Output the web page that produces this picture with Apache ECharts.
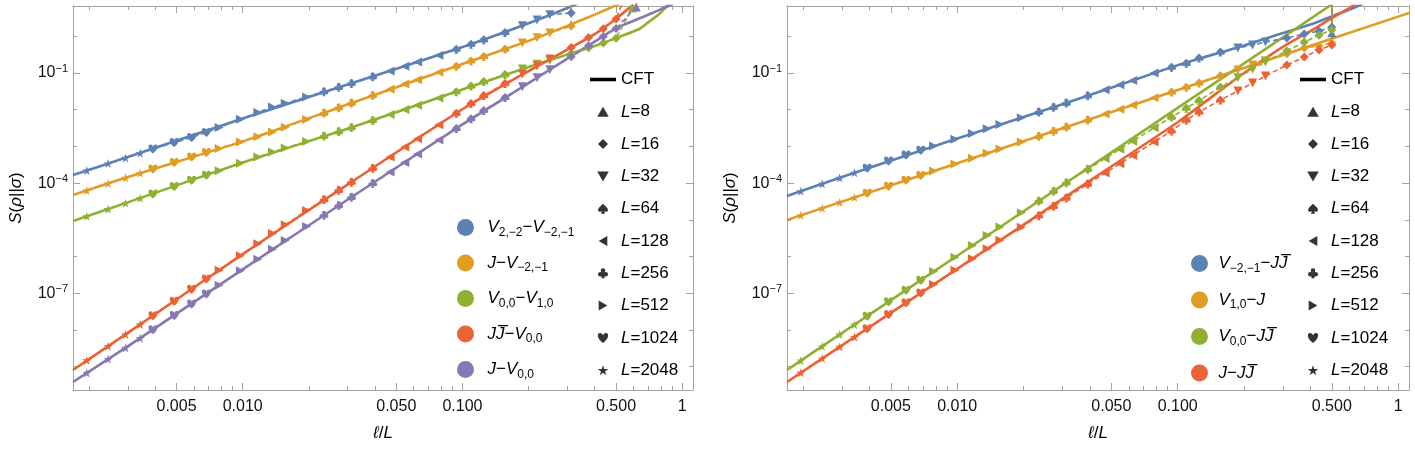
<!DOCTYPE html>
<html>
<head>
<meta charset="utf-8">
<script src="https://cdn.jsdelivr.net/npm/echarts@6/dist/echarts.min.js"></script>
<style>
  html, body { margin: 0; padding: 0; background: #fff; }
  #chart { width: 1415px; height: 455px; }
</style>
</head>
<body>
<div id="chart"></div>
<script>
(function (echarts) {
  'use strict';

  // lattice points: x = l/L, and the system size L each point belongs to
  var markerX = [0.001953, 0.002441, 0.00293, 0.003418, 0.003906, 0.004883, 0.005859, 0.006836,
    0.007813, 0.009766, 0.011719, 0.013672, 0.015625, 0.019531, 0.023438, 0.027344, 0.03125, 0.039063,
    0.046875, 0.054688, 0.0625, 0.078125, 0.09375, 0.109375, 0.125, 0.15625, 0.1875, 0.21875, 0.25,
    0.3125, 0.375, 0.4375, 0.5];
  var markerL = [2048, 2048, 2048, 2048, 1024, 1024, 1024, 1024, 512, 512, 512, 512, 512, 512,
    256, 256, 256, 256, 128, 128, 128, 128, 64, 64, 64, 64, 32, 32, 32, 16, 16, 16, 16];
  var sizesL = [8, 16, 32, 64, 128, 256, 512, 1024, 2048];

  // left panel, lattice values
  var latA = [2.20e-4, 3.42e-4, 4.86e-4, 6.56e-4, 8.49e-4, 1.27e-3, 1.76e-3, 2.40e-3, 3.27e-3, 5.47e-3,
    8.39e-3, 1.18e-2, 1.49e-2, 2.23e-2, 3.09e-2, 4.07e-2, 5.21e-2, 7.93e-2, 0.113, 0.153, 0.198, 0.305,
    0.446, 0.610, 0.804, 1.27, 1.95, 2.80, 3.85, 4.32];
  var latB = [6.28e-5, 9.75e-5, 1.39e-4, 1.87e-4, 2.42e-4, 3.64e-4, 5.11e-4, 6.82e-4, 8.71e-4, 1.32e-3,
    1.84e-3, 2.48e-3, 3.33e-3, 5.45e-3, 8.07e-3, 1.13e-2, 1.52e-2, 2.45e-2, 3.60e-2, 4.99e-2, 6.56e-2,
    0.105, 0.154, 0.214, 0.282, 0.448, 0.656, 0.910, 1.24, 1.9];
  var latC = [1.24e-5, 1.96e-5, 2.83e-5, 3.88e-5, 5.08e-5, 8.13e-5, 1.19e-4, 1.64e-4, 2.18e-4, 3.48e-4,
    5.11e-4, 7.00e-4, 8.99e-4, 1.36e-3, 1.91e-3, 2.53e-3, 3.25e-3, 5.08e-3, 7.35e-3, 1.01e-2, 1.33e-2,
    2.08e-2, 3.09e-2, 4.40e-2, 5.83e-2, 9.04e-2, 0.129, 0.173, 0.223, 0.342, 0.486, 0.653, 0.887];
  var latD = [1.47e-9, 3.60e-9, 7.53e-9, 1.41e-8, 2.42e-8, 6.05e-8, 1.29e-7, 2.42e-7, 4.21e-7, 1.05e-6,
    2.23e-6, 4.21e-6, 7.31e-6, 1.78e-5, 3.55e-5, 6.37e-5, 1.06e-4, 2.53e-4, 5.18e-4, 9.57e-4, 1.61e-3,
    3.90e-3, 7.98e-3, 1.48e-2, 2.42e-2, 5.14e-2, 9.39e-2, 0.156, 0.240, 0.499, 0.927, 1.60, 2.98];
  var latE = [6.73e-10, 1.60e-9, 3.25e-9, 5.94e-9, 1.01e-8, 2.45e-8, 5.11e-8, 9.57e-8, 1.64e-7, 4.06e-7,
    8.43e-7, 1.58e-6, 2.71e-6, 6.56e-6, 1.34e-5, 2.44e-5, 4.10e-5, 9.82e-5, 2.00e-4, 3.66e-4, 6.17e-4,
    1.50e-3, 3.08e-3, 5.69e-3, 9.57e-3, 2.15e-2, 4.21e-2, 7.45e-2, 0.123, 0.276, 0.555, 0.993, 1.64];
  // last L=8 points (they leave the frame)
  var tailA = [[0.3125, 30]];
  var tailB = [[0.3125, 30]];
  var tailC = [[0.593, 5.9]];
  var tailD = [[0.55, 12]];
  var tailE = [[0.618, 6.3]];

  // left panel, CFT curves
  var cftA = [[0.00169, 1.66e-4], [0.003, 5.11e-4], [0.01, 5.79e-3], [0.03, 4.83e-2], [0.1, 0.508],
    [0.2, 2.26], [0.3, 5.9], [0.4, 12.6]];
  var cftB = [[0.00169, 4.74e-5], [0.003, 1.46e-4], [0.01, 1.37e-3], [0.03, 1.39e-2], [0.1, 0.176],
    [0.2, 0.75], [0.3, 1.93], [0.4, 3.9], [0.5, 6.98], [0.7, 17]];
  var cftC = [[0.00169, 9.27e-6], [0.003, 2.98e-5], [0.01, 3.64e-4], [0.03, 3.02e-3], [0.1, 3.57e-2],
    [0.2, 0.145], [0.3, 0.317], [0.4, 0.545], [0.5, 0.894], [0.638, 1.58], [0.7, 2.4], [0.786, 4.06],
    [0.855, 7.13], [0.88, 12]];
  var cftD = [[0.00169, 8.07e-10], [0.003, 8.28e-9], [0.01, 1.16e-6], [0.03, 9.10e-5], [0.1, 1.03e-2],
    [0.2, 0.113], [0.3, 0.435], [0.4, 1.15], [0.5, 3.02], [0.574, 5.9], [0.7, 15]];
  var cftE = [[0.00169, 3.8e-10], [0.003, 3.57e-9], [0.01, 4.46e-7], [0.03, 3.51e-5], [0.1, 3.97e-3],
    [0.2, 5.31e-2], [0.3, 0.247], [0.4, 0.721], [0.5, 1.65], [0.7, 3.88], [0.846, 6.28], [1, 9.8]];

  // right panel, lattice values
  var latF = [6.01e-5, 9.57e-5, 1.39e-4, 1.92e-4, 2.53e-4, 4.00e-4, 5.79e-4, 7.83e-4, 1.02e-3, 1.57e-3,
    2.24e-3, 3.03e-3, 3.93e-3, 6.05e-3, 8.65e-3, 1.17e-2, 1.52e-2, 2.40e-2, 3.48e-2, 4.76e-2, 6.28e-2,
    9.93e-2, 0.144, 0.184, 0.256, 0.373, 0.480, 0.579, 0.700, 0.900, 1.16, 1.39, 1.79];
  var latG = [1.32e-5, 2.07e-5, 2.98e-5, 4.06e-5, 5.28e-5, 8.26e-5, 1.19e-4, 1.62e-4, 2.12e-4, 3.30e-4,
    4.75e-4, 6.49e-4, 8.45e-4, 1.32e-3, 1.90e-3, 2.58e-3, 3.37e-3, 5.27e-3, 7.59e-3, 1.03e-2, 1.35e-2,
    2.11e-2, 3.03e-2, 4.12e-2, 5.38e-2, 8.41e-2, 0.121, 0.165, 0.215, 0.337, 0.484, 0.545, 0.656];
  var latH = [1.46e-9, 3.57e-9, 7.45e-9, 1.39e-8, 2.37e-8, 5.82e-8, 1.21e-7, 2.26e-7, 3.88e-7, 9.53e-7,
    1.99e-6, 3.71e-6, 6.34e-6, 1.56e-5, 3.24e-5, 6.01e-5, 1.03e-4, 2.38e-4, 4.71e-4, 8.41e-4, 1.39e-3,
    3.23e-3, 6.28e-3, 1.10e-2, 1.77e-2, 4.09e-2, 7.48e-2, 0.127, 0.199, 0.404, 0.695, 1.07, 1.52];
  var latI = [6.82e-10, 1.66e-9, 3.44e-9, 6.38e-9, 1.08e-8, 2.64e-8, 5.47e-8, 1.01e-7, 1.73e-7, 4.22e-7,
    8.73e-7, 1.62e-6, 2.75e-6, 6.30e-6, 1.29e-5, 2.33e-5, 3.94e-5, 9.42e-5, 1.88e-4, 3.39e-4, 5.66e-4,
    1.32e-3, 2.64e-3, 5.24e-3, 8.65e-3, 1.84e-2, 3.24e-2, 5.35e-2, 8.28e-2, 0.165, 0.273, 0.424, 0.579];
  var tailF = [[0.5, 1.25]];
  var tailG = [[0.5, 30]];
  var tailH = [[0.5, 30]];
  var tailI = [[0.5, 30]];

  // right panel, CFT curves
  var cftF = [[0.00169, 4.46e-5], [0.003, 1.47e-4], [0.01, 1.64e-3], [0.03, 1.40e-2], [0.1, 0.164],
    [0.2, 0.565], [0.3, 1.23], [0.4, 2.10], [0.5, 3.48], [0.658, 6.7], [0.8, 12]];
  var cftG = [[0.00169, 9.89e-6], [0.003, 3.13e-5], [0.01, 3.46e-4], [0.03, 3.11e-3], [0.1, 3.44e-2],
    [0.3, 0.310], [1, 3.44], [1.12, 4.32]];
  var cftH = [[0.00169, 8.07e-10], [0.003, 8.20e-9], [0.01, 1.05e-6], [0.03, 8.75e-5], [0.1, 1.12e-2],
    [0.3, 0.935], [0.5, 7.38], [0.6, 15.5]];
  var cftI = [[0.00169, 3.8e-10], [0.003, 3.78e-9], [0.01, 4.62e-7], [0.03, 3.72e-5], [0.1, 4.54e-3],
    [0.15, 2.78e-2], [0.2, 0.1], [0.3, 0.518], [0.4, 1.39], [0.5, 3.11], [0.6, 5.9], [0.7, 10.5]];

  // axes
  var xMin = 0.00169, xMax = 1.12;
  var yMin = 2.3e-10, yMax = 6.7;
  var xMinor = [0.002, 0.003, 0.004, 0.006, 0.007, 0.008, 0.009, 0.02, 0.03, 0.04, 0.06, 0.07, 0.08,
    0.09, 0.2, 0.3, 0.4, 0.6, 0.7, 0.8, 0.9];
  var xLabels = [0.005, 0.01, 0.05, 0.1, 0.5, 1];
  var yMinor = [1e-9, 1e-8, 1e-6, 1e-5, 1e-3, 1e-2, 1];
  var yLabels = [1e-7, 1e-4, 1e-1];

  var FONT = '"Liberation Sans", Arial, "DejaVu Sans", sans-serif';
  var FRAME = '#a3a3a3';
  var C = {
    blue: '#5E81B5', orange: '#E19C24', green: '#8FB032', red: '#EB6235', purple: '#8778B3'
  };

  var SYM = {
    8: 'path://M5,0L10,8.66L0,8.66Z',
    16: 'path://M5,0L10,5L5,10L0,5Z',
    32: 'path://M0,0L10,0L5,8.66Z',
    64: 'path://M5,0C8,3 10,4.5 10,6.3C10,8 8,8.6 6.2,7.6L7,10L3,10L3.8,7.6C2,8.6 0,8 0,6.3C0,4.5 2,3 5,0Z',
    128: 'path://M0,5L8.66,0L8.66,10Z',
    256: 'path://M2.7,2.4A2.3,2.3 0 1 1 7.3,2.4A2.3,2.3 0 1 1 2.7,2.4Z' +
      'M0,6A2.3,2.3 0 1 1 4.6,6A2.3,2.3 0 1 1 0,6Z' +
      'M5.4,6A2.3,2.3 0 1 1 10,6A2.3,2.3 0 1 1 5.4,6Z' +
      'M4.3,4.5L5.7,4.5L6.6,10L3.4,10Z',
    512: 'path://M0,0L8.66,5L0,10Z',
    1024: 'path://M5,9C0,5.5 0,1 2.6,1C4,1 5,2.2 5,3C5,2.2 6,1 7.4,1C10,1 10,5.5 5,9Z',
    2048: 'path://M5,0L6.12,3.45L9.76,3.45L6.82,5.59L7.94,9.05L5,6.91L2.06,9.05L3.18,5.59L0.24,3.45L3.88,3.45Z'
  };
  var CFT_ICON = 'path://M0,0L22,0L22,3L0,3Z';

  var rich = {
    i: { fontStyle: 'italic', fontSize: 17, lineHeight: 22, fontFamily: FONT, color: '#000' },
    n: { fontSize: 17, lineHeight: 22, fontFamily: FONT, color: '#000' },
    s: { fontSize: 12, lineHeight: 13, verticalAlign: 'bottom', fontFamily: FONT, color: '#000' }
  };

  var curveLabel = {
    'A': '{i|V}{s|2,\u22122}{n|\u2212}{i|V}{s|\u22122,\u22121}',
    'B': '{i|J}{n|\u2212}{i|V}{s|\u22122,\u22121}',
    'C': '{i|V}{s|0,0}{n|\u2212}{i|V}{s|1,0}',
    'D': '{i|JJ\u0305}{n|\u2212}{i|V}{s|0,0}',
    'E': '{i|J}{n|\u2212}{i|V}{s|0,0}',
    'F': '{i|V}{s|\u22122,\u22121}{n|\u2212}{i|JJ\u0305}',
    'G': '{i|V}{s|1,0}{n|\u2212}{i|J}',
    'H': '{i|V}{s|0,0}{n|\u2212}{i|JJ\u0305}',
    'I': '{i|J}{n|\u2212}{i|JJ\u0305}'
  };

  function cftSeries(name, color, data, axis) {
    return {
      name: name, type: 'line', xAxisIndex: axis, yAxisIndex: axis, data: data,
      showSymbol: false, smooth: 0.2, clip: true, silent: true, z: 2,
      lineStyle: { color: color, width: 2.6 }, itemStyle: { color: color }
    };
  }

  function latticeSeries(name, color, ys, tail, axis) {
    var data = [];
    ys.forEach(function (y, i) {
      data.push({ value: [markerX[i], y], symbol: SYM[markerL[i]] });
    });
    tail.forEach(function (p) {
      data.push({ value: p, symbol: SYM[8] });
    });
    return {
      name: name, type: 'line', xAxisIndex: axis, yAxisIndex: axis, data: data,
      symbolSize: 9, showAllSymbol: true, clip: true, silent: true, z: 3,
      lineStyle: { color: color, width: 1.6, type: [5, 3] }, itemStyle: { color: color }
    };
  }

  // one frame side = an axis with long ticks (and labels) plus an axis with short ticks
  function frameAxis(grid, pos, min, max, ticks, len, line) {
    return {
      type: 'log', gridIndex: grid, position: pos, min: min, max: max,
      axisLine: { show: line, onZero: false, lineStyle: { color: FRAME, width: 1 } },
      axisTick: { show: true, inside: true, length: len, customValues: ticks, lineStyle: { color: FRAME } },
      axisLabel: { show: false },
      splitLine: { show: false }
    };
  }

  function xAxes(grid) {
    var bottom = frameAxis(grid, 'bottom', xMin, xMax, xLabels, 7, true);
    bottom.axisLabel = {
      show: true, customValues: xLabels, margin: 9, fontSize: 16, fontFamily: FONT, color: '#111',
      formatter: function (v) { return v >= 1 ? '1' : v.toFixed(3); }
    };
    bottom.name = '{i|\u2113}{n|/}{i|L}';
    bottom.nameLocation = 'middle';
    bottom.nameGap = 32;
    bottom.nameTextStyle = { rich: rich };
    return [
      bottom,
      frameAxis(grid, 'top', xMin, xMax, xLabels, 7, true),
      frameAxis(grid, 'bottom', xMin, xMax, xMinor, 4, false),
      frameAxis(grid, 'top', xMin, xMax, xMinor, 4, false)
    ];
  }

  function yAxes(grid) {
    var left = frameAxis(grid, 'left', yMin, yMax, yLabels, 7, true);
    left.axisLabel = {
      show: true, customValues: yLabels, margin: 5, fontFamily: FONT, color: '#111',
      formatter: function (v) {
        return '{b|10}{e|\u2212' + Math.abs(Math.round(Math.log10(v))) + '}';
      },
      rich: {
        b: { fontSize: 16, lineHeight: 20, fontFamily: FONT, color: '#111' },
        e: { fontSize: 11, lineHeight: 11, verticalAlign: 'top', fontFamily: FONT, color: '#111' }
      }
    };
    left.name = '{i|S}{n|(}{i|\u03c1}{n|||}{i|\u03c3}{n|)}';
    left.nameLocation = 'middle';
    left.nameGap = 46;
    left.nameRotate = 90;
    left.nameTextStyle = { rich: rich };
    return [
      left,
      frameAxis(grid, 'right', yMin, yMax, yLabels, 7, true),
      frameAxis(grid, 'left', yMin, yMax, yMinor, 4, false),
      frameAxis(grid, 'right', yMin, yMax, yMinor, 4, false)
    ];
  }

  var series = [
    cftSeries('A', C.blue, cftA, 0), cftSeries('B', C.orange, cftB, 0), cftSeries('C', C.green, cftC, 0),
    cftSeries('D', C.red, cftD, 0), cftSeries('E', C.purple, cftE, 0),
    latticeSeries('A', C.blue, latA, tailA, 0), latticeSeries('B', C.orange, latB, tailB, 0),
    latticeSeries('C', C.green, latC, tailC, 0), latticeSeries('E', C.purple, latE, tailE, 0),
    latticeSeries('D', C.red, latD, tailD, 0),
    cftSeries('F', C.blue, cftF, 4), cftSeries('G', C.orange, cftG, 4), cftSeries('H', C.green, cftH, 4),
    cftSeries('I', C.red, cftI, 4),
    latticeSeries('F', C.blue, latF, tailF, 4), latticeSeries('G', C.orange, latG, tailG, 4),
    latticeSeries('H', C.green, latH, tailH, 4), latticeSeries('I', C.red, latI, tailI, 4)
  ];

  // legend-only entries for the marker shapes
  series.push({
    name: 'CFT', type: 'line', xAxisIndex: 0, yAxisIndex: 0, data: [], symbol: 'none',
    lineStyle: { color: '#000', width: 3 }, itemStyle: { color: '#000' }
  });
  sizesL.forEach(function (L) {
    series.push({
      name: 'L=' + L, type: 'scatter', xAxisIndex: 0, yAxisIndex: 0, data: [],
      symbol: SYM[L], itemStyle: { color: '#000' }
    });
  });
  var shapeItems = [{ name: 'CFT', icon: CFT_ICON }].concat(sizesL.map(function (L) {
    return { name: 'L=' + L, icon: SYM[L] };
  }));

  function shapeLabel(name) {
    return name === 'CFT' ? '{n|CFT}' : '{i|L}{n|=' + name.slice(2) + '}';
  }

  function curveLegend(names, left, top, width, gap) {
    return {
      data: names, orient: 'vertical', left: left, top: top, icon: 'circle',
      itemWidth: width, itemHeight: 17, itemGap: gap, selectedMode: false,
      formatter: function (n) { return curveLabel[n]; },
      textStyle: { fontSize: 17, fontFamily: FONT, color: '#000', rich: rich }
    };
  }

  function shapeLegend(left) {
    return {
      data: shapeItems, orient: 'vertical', left: left, top: 66,
      itemWidth: 26, itemHeight: 10, itemGap: 15.3, selectedMode: false,
      formatter: shapeLabel,
      textStyle: { fontSize: 17, fontFamily: FONT, color: '#000', rich: rich }
    };
  }

  var chart = echarts.init(document.getElementById('chart'), null, { renderer: 'canvas' });
  chart.setOption({
    animation: false,
    backgroundColor: '#fff',
    grid: [
      { left: 73, top: 6, width: 620, height: 384, outerBoundsMode: 'none' },
      { left: 787, top: 6, width: 622, height: 384, outerBoundsMode: 'none' }
    ],
    xAxis: xAxes(0).concat(xAxes(1)),
    yAxis: yAxes(0).concat(yAxes(1)),
    legend: [
      curveLegend(['A', 'B', 'C', 'D', 'E'], 452, 214, 34, 16),
      curveLegend(['F', 'G', 'H', 'I'], 1186, 250, 28, 17),
      shapeLegend(585),
      shapeLegend(1295)
    ],
    series: series
  });
})(echarts);
</script>
</body>
</html>
